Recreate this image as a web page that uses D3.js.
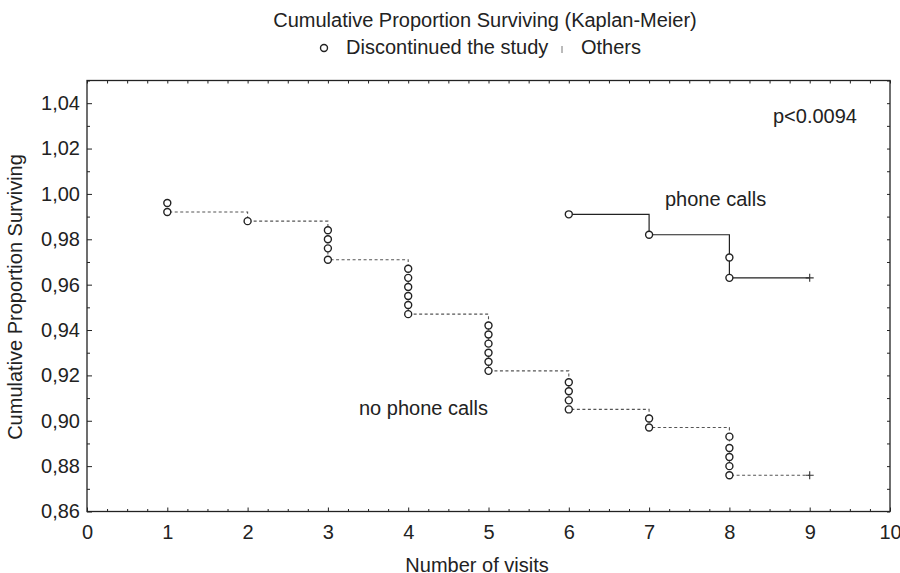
<!DOCTYPE html>
<html>
<head>
<meta charset="utf-8">
<script src="https://cdn.jsdelivr.net/npm/d3@7"></script>
<style>
  body { margin: 0; background: #fff; }
  svg { font-family: "Liberation Sans", Arial, sans-serif; }
</style>
</head>
<body>
<svg id="svg" width="900" height="573"></svg>
<script>
// event times + survival after each event
var noCallTimes = [1, 1, 2, 3, 3, 3, 3, 4, 4, 4, 4, 4, 4, 5, 5, 5, 5, 5, 5, 6, 6, 6, 6, 7, 7, 8, 8, 8, 8, 8];
var noCallSurv = [0.996, 0.992, 0.988, 0.984, 0.980, 0.976, 0.971, 0.967, 0.963, 0.959, 0.955, 0.951, 0.947,
  0.942, 0.938, 0.934, 0.930, 0.926, 0.922, 0.917, 0.913, 0.909, 0.905, 0.901, 0.897, 0.893, 0.888, 0.884, 0.880, 0.876];
var noCallCensor = [9, 0.876];

var callTimes = [6, 7, 8, 8];
var callSurv = [0.991, 0.982, 0.972, 0.963];
var callCensor = [9, 0.963];

var xTicks = [0, 1, 2, 3, 4, 5, 6, 7, 8, 9, 10];
var yTicks = [0.86, 0.88, 0.90, 0.92, 0.94, 0.96, 0.98, 1.00, 1.02, 1.04];

var svg = d3.select("#svg");

var x = d3.scaleLinear().domain([0, 10]).range([87, 890]);
var y = d3.scaleLinear().domain([0.86, 1.05]).range([511.5, 80.5]);

var comma = d3.formatLocale({ decimal: ",", thousands: ".", grouping: [3], currency: ["", ""] }).format(".2f");

var xMinor = d3.range(0, 10.01, 0.25).filter(d => Math.abs(d - Math.round(d)) > 0.01);
var yMinor = d3.range(0.87, 1.05, 0.02);

// axes, ticks pointing inward
function cleanup(g) {
  g.select(".domain").remove();
  g.selectAll("line").attr("stroke", "#222");
  g.selectAll("text").attr("fill", "#222").style("font-size", "20px");
}

svg.append("g")
  .attr("transform", `translate(0, ${y(0.86)})`)
  .call(d3.axisBottom(x).tickValues(xTicks).tickSize(-4).tickPadding(9).tickFormat(d3.format("d")))
  .call(cleanup)
  .call(g => g.selectAll("text").attr("dy", "0.9em"));
svg.append("g")
  .attr("transform", `translate(0, ${y(0.86)})`)
  .call(d3.axisBottom(x).tickValues(xMinor).tickSize(-2.5).tickFormat(""))
  .call(cleanup);
svg.append("g")
  .attr("transform", `translate(0, ${y(1.05)})`)
  .call(d3.axisTop(x).tickValues(xTicks.concat(xMinor)).tickSize(-3).tickFormat(""))
  .call(cleanup);

svg.append("g")
  .attr("transform", `translate(${x(0)}, 0)`)
  .call(d3.axisLeft(y).tickValues(yTicks).tickSize(-5).tickPadding(7).tickFormat(comma))
  .call(cleanup);
svg.append("g")
  .attr("transform", `translate(${x(0)}, 0)`)
  .call(d3.axisLeft(y).tickValues(yMinor).tickSize(-3).tickFormat(""))
  .call(cleanup);
svg.append("g")
  .attr("transform", `translate(${x(10)}, 0)`)
  .call(d3.axisRight(y).tickValues(yTicks.concat(yMinor)).tickSize(-3).tickFormat(""))
  .call(cleanup);

// frame
svg.append("rect")
  .attr("x", x(0))
  .attr("y", y(1.05))
  .attr("width", x(10) - x(0))
  .attr("height", y(0.86) - y(1.05))
  .attr("fill", "none")
  .attr("stroke", "#222")
  .attr("stroke-width", 1.3);

// KM step curves
var line = d3.line()
  .x(d => x(d[0]))
  .y(d => y(d[1]))
  .curve(d3.curveStepAfter);

var noCallPts = noCallTimes.map((t, i) => [t, noCallSurv[i]]).concat([noCallCensor]);
var callPts = callTimes.map((t, i) => [t, callSurv[i]]).concat([callCensor]);

svg.append("path")
  .attr("d", line(noCallPts))
  .attr("fill", "none")
  .attr("stroke", "#555")
  .attr("stroke-width", 1.1)
  .attr("stroke-dasharray", "3,2.5");

svg.append("path")
  .attr("d", line(callPts))
  .attr("fill", "none")
  .attr("stroke", "#222")
  .attr("stroke-width", 1.2);

function drawEvents(times, surv) {
  svg.append("g")
    .selectAll("circle")
    .data(times)
    .enter()
    .append("circle")
    .attr("cx", d => x(d))
    .attr("cy", (d, i) => y(surv[i]))
    .attr("r", 3.5)
    .attr("fill", "#fff")
    .attr("stroke", "#222")
    .attr("stroke-width", 1.4);
}
drawEvents(noCallTimes, noCallSurv);
drawEvents(callTimes, callSurv);

function drawCensor(c) {
  var cx = x(c[0]), cy = y(c[1]);
  svg.append("path")
    .attr("d", `M${cx - 4},${cy}H${cx + 4}M${cx},${cy - 4}H${cx}V${cy + 4}`)
    .attr("stroke", "#333")
    .attr("stroke-width", 1.1);
}
drawCensor(noCallCensor);
drawCensor(callCensor);

// texts
svg.append("text")
  .attr("x", 485)
  .attr("y", 27)
  .style("text-anchor", "middle")
  .style("font-size", "20px")
  .attr("fill", "#222")
  .text("Cumulative Proportion Surviving (Kaplan-Meier)");

var legend = svg.append("g").attr("fill", "#222").style("font-size", "20px");
legend.append("circle")
  .attr("cx", 324)
  .attr("cy", 48)
  .attr("r", 3.5)
  .attr("fill", "#fff")
  .attr("stroke", "#222")
  .attr("stroke-width", 1.4);
legend.append("text").attr("x", 346).attr("y", 54).text("Discontinued the study");
legend.append("line")
  .attr("x1", 562).attr("x2", 562)
  .attr("y1", 46).attr("y2", 53)
  .attr("stroke", "#777");
legend.append("text").attr("x", 581).attr("y", 54).text("Others");

svg.append("text")
  .attr("x", 773)
  .attr("y", 123)
  .style("font-size", "20px")
  .attr("fill", "#222")
  .text("p<0.0094");

svg.append("text")
  .attr("x", 665)
  .attr("y", 206)
  .style("font-size", "20px")
  .attr("fill", "#222")
  .text("phone calls");

svg.append("text")
  .attr("x", 359)
  .attr("y", 415)
  .style("font-size", "20px")
  .attr("fill", "#222")
  .text("no phone calls");

svg.append("text")
  .attr("x", 477)
  .attr("y", 572)
  .style("text-anchor", "middle")
  .style("font-size", "20px")
  .attr("fill", "#222")
  .text("Number of visits");

svg.append("text")
  .attr("transform", "rotate(-90)")
  .attr("x", -297)
  .attr("y", 22)
  .style("text-anchor", "middle")
  .style("font-size", "20px")
  .attr("fill", "#222")
  .text("Cumulative Proportion Surviving");
</script>
</body>
</html>
